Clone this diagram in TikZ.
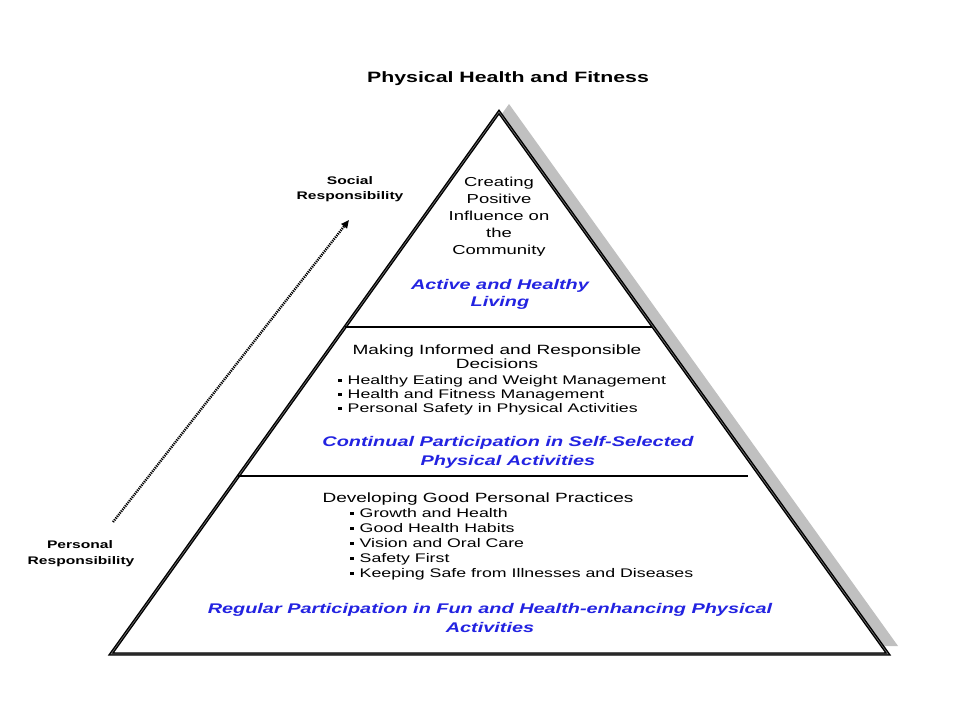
\documentclass[tikz,border=0pt]{standalone}
\usepackage{fontspec}
\setmainfont{Liberation Sans}[FakeStretch=1.42]
\usetikzlibrary{arrows.meta}
\definecolor{bluetxt}{RGB}{35,35,225}
\definecolor{shadowgray}{RGB}{192,192,192}
\newcommand\sqbul{\rule[2pt]{4pt}{3.5pt}\hspace{5.5pt}}
\begin{document}
\begin{tikzpicture}[x=1pt,y=-1pt,
  txt/.style={anchor=base, inner sep=0pt, font=\fontsize{13.4}{15}\selectfont},
  toptxt/.style={anchor=base, inner sep=0pt, font=\fontsize{13}{15}\selectfont},
  bullet/.style={anchor=base west, inner sep=0pt, font=\fontsize{12.5}{15}\selectfont},
  bluetext/.style={anchor=base, inner sep=0pt, text=bluetxt, font=\fontsize{14}{16}\selectfont\bfseries\itshape},
  sidetxt/.style={anchor=base, inner sep=0pt, font=\fontsize{11}{13}\selectfont\bfseries},
  outline/.style={draw=black, line width=1.4pt, double=black!55, double distance=0.6pt, line join=miter},
  divider/.style={draw=black, line width=2pt},
  shadow/.style={fill=shadowgray, draw=none},
  growarrow/.style={draw=black, line width=2.4pt, dash pattern=on 1.2pt off 1pt, -{Triangle[length=8pt,width=7pt]}}
]
\useasboundingbox[fill=white] (0,0) rectangle (960,720);

% shadow and pyramid
\coordinate (apex) at (499,112);
\coordinate (bl) at (111,654);
\coordinate (br) at (888,654);
\path[shadow] ([shift={(10,-8)}]apex) -- ([shift={(10,-8)}]bl) -- ([shift={(10,-8)}]br) -- cycle;
\path[outline, fill=white] (apex) -- (bl) -- (br) -- cycle;

% dividers
\coordinate (d1l) at (345,327);
\coordinate (d1r) at (652,327);
\coordinate (d2l) at (238,476);
\coordinate (d2r) at (748,476);
\draw[divider] (d1l) -- (d1r);
\draw[divider] (d2l) -- (d2r);

% title
\node[anchor=base, inner sep=0pt, font=\fontsize{15}{18}\selectfont\bfseries] (title) at (508,82) {Physical Health and Fitness};

% side labels and arrow
\node[sidetxt] (soc1) at (350,184) {Social};
\node[sidetxt] (soc2) at (350,199) {Responsibility};
\node[sidetxt] (per1) at (80,548) {Personal};
\node[sidetxt] (per2) at (81,564) {Responsibility};
\coordinate (atail) at (113,522);
\coordinate (ahead) at (349,220);
\draw[growarrow] (atail) -- (ahead);

% top tier
\begin{scope}
\clip (380,150) rectangle (620,255.5);
\node[toptxt] (t1) at (499,186) {Creating};
\node[toptxt] (t2) at (499,203) {Positive};
\node[toptxt] (t3) at (499,220) {Influence on};
\node[toptxt] (t4) at (499,237) {the};
\node[toptxt] (t5) at (499,254) {Community};
\end{scope}
\node[bluetext] (b1) at (500,289) {Active and Healthy};
\node[bluetext] (b2) at (500,306) {Living};

% middle tier
\node[txt] (m1) at (497,354) {Making Informed and Responsible};
\node[txt] (m2) at (497,368) {Decisions};
\node[bullet] (mb1) at (338,384) {\sqbul Healthy Eating and Weight Management};
\node[bullet] (mb2) at (338,398) {\sqbul Health and Fitness Management};
\node[bullet] (mb3) at (338,412) {\sqbul Personal Safety in Physical Activities};
\node[bluetext] (b3) at (508,446) {Continual Participation in Self-Selected};
\node[bluetext] (b4) at (508,465) {Physical Activities};

% bottom tier
\node[txt] (l1) at (478,502) {Developing Good Personal Practices};
\node[bullet] (lb1) at (350,517) {\sqbul Growth and Health};
\node[bullet] (lb2) at (350,532) {\sqbul Good Health Habits};
\node[bullet] (lb3) at (350,547) {\sqbul Vision and Oral Care};
\node[bullet] (lb4) at (350,562) {\sqbul Safety First};
\node[bullet] (lb5) at (350,577) {\sqbul Keeping Safe from Illnesses and Diseases};
\node[bluetext] (b5) at (490,613) {Regular Participation in Fun and Health-enhancing Physical};
\node[bluetext] (b6) at (490,632) {Activities};
\end{tikzpicture}
\end{document}
